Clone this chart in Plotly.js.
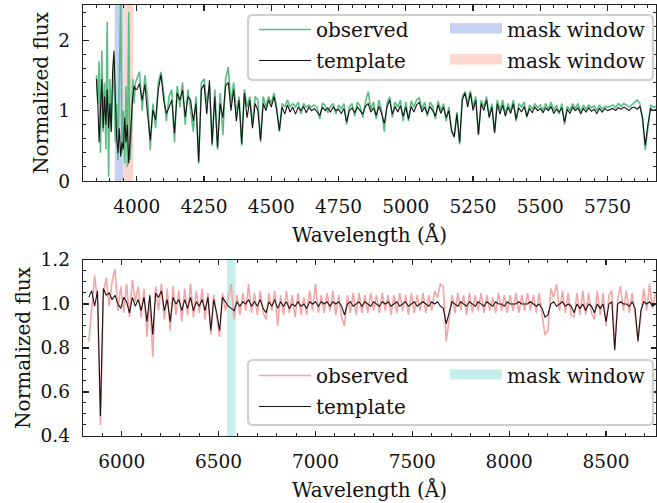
<!DOCTYPE html>
<html><head><meta charset="utf-8">
<script src="https://cdn.plot.ly/plotly-3.0.1.min.js"></script>
<style>html,body{margin:0;padding:0;background:#fff}</style>
</head><body><div id="chart" style="width:657px;height:503px"></div>
<script>
// ---------------- data ----------------
const topWave = [
3850,3855,3860,3865,3870,3875,3880,3885,3890,3895,
3900,3905,3910,3915,3920,3925,3930,3935,3940,3945,
3950,3955,3960,3965,3970,3975,3980,3985,3990,3995,
4000,4010,4020,4030,4040,4050,4060,4070,4080,4090,
4100,4110,4120,4130,4140,4150,4160,4170,4180,4190,
4200,4210,4220,4230,4240,4250,4260,4270,4280,4290,
4300,4310,4320,4330,4340,4350,4360,4370,4380,4390,
4400,4410,4420,4430,4440,4450,4460,4470,4480,4490,
4500,4510,4520,4530,4540,4550,4560,4570,4580,4590,
4600,4610,4620,4630,4640,4650,4660,4670,4680,4690,
4700,4710,4720,4730,4740,4750,4760,4770,4780,4790,
4800,4810,4820,4830,4840,4850,4860,4870,4880,4890,
4900,4910,4920,4930,4940,4950,4960,4970,4980,4990,
5000,5010,5020,5030,5040,5050,5060,5070,5080,5090,
5100,5110,5120,5130,5140,5150,5160,5170,5180,5190,
5200,5210,5220,5230,5240,5250,5260,5270,5280,5290,
5300,5310,5320,5330,5340,5350,5360,5370,5380,5390,
5400,5410,5420,5430,5440,5450,5460,5470,5480,5490,
5500,5510,5520,5530,5540,5550,5560,5570,5580,5590,
5600,5610,5620,5630,5640,5650,5660,5670,5680,5690,
5700,5710,5720,5730,5740,5750,5760,5770,5780,5790,
5800,5810,5820,5830,5840,5850,5860,5870,5880,5890,
5900,5910,5920,5930];
const topTemplate = [
1.45,1.10,0.55,1.05,1.45,0.75,1.20,0.80,1.30,0.75,
1.10,0.70,1.55,1.85,1.00,0.60,0.40,0.75,0.35,0.55,
0.45,0.90,0.55,0.80,0.25,0.60,0.95,1.20,1.35,1.30,
1.30,1.38,1.15,1.37,0.95,0.58,1.01,0.87,1.30,1.51,
1.15,0.96,1.05,1.15,0.68,1.25,1.15,1.29,0.91,1.20,
1.15,0.85,1.10,0.27,1.30,1.37,0.95,1.43,0.53,1.20,
0.48,1.10,0.90,1.35,1.40,1.00,1.30,0.85,1.15,0.53,
1.25,0.90,1.15,0.75,1.10,1.00,0.58,1.10,1.00,1.15,
1.05,1.20,1.00,0.72,1.05,0.95,1.08,0.98,1.05,0.95,
1.05,1.00,1.06,0.97,1.05,1.00,1.03,0.98,0.93,1.05,
1.00,1.04,0.98,1.05,1.00,1.02,0.96,1.03,0.84,1.00,
1.04,0.97,1.05,1.00,0.95,1.06,1.10,0.98,1.04,0.93,
1.06,0.96,0.82,1.05,1.15,0.95,1.06,0.98,1.07,0.92,
1.05,0.88,1.06,0.98,1.08,1.12,0.98,1.05,0.95,1.06,
1.00,0.92,1.08,0.96,1.05,0.90,1.00,0.72,0.63,0.95,
0.55,1.15,1.25,1.05,1.25,1.00,1.15,0.66,1.10,1.00,
1.15,0.90,1.05,0.69,1.10,0.95,1.08,0.92,1.05,0.96,
1.10,0.88,1.04,0.98,1.06,0.92,1.03,0.97,1.05,1.00,
1.03,0.97,1.04,1.00,1.06,0.96,1.02,0.98,1.04,0.84,
1.02,0.96,1.05,1.00,1.04,0.95,1.03,0.98,1.04,0.99,
1.02,0.96,1.03,0.98,1.03,1.00,1.02,1.03,1.00,1.04,
1.02,1.05,1.03,1.00,1.04,1.05,1.02,1.06,0.90,0.51,
0.80,1.03,1.00,1.02];
const topObserved = [
1.50,1.10,1.70,0.40,1.85,0.70,1.40,0.45,2.26,0.06,
1.45,0.70,1.30,1.75,0.55,1.10,0.30,1.40,2.60,0.40,
1.00,0.25,1.35,0.20,2.40,0.30,0.70,1.45,1.10,1.40,
1.45,1.55,1.00,1.50,1.20,0.44,1.10,0.75,1.40,1.55,
1.25,0.85,1.20,1.30,0.55,1.35,1.05,1.40,0.80,1.30,
1.00,0.70,1.20,0.25,1.40,1.45,1.10,1.35,0.50,1.30,
0.45,1.25,0.65,1.45,1.62,1.10,1.40,0.95,1.20,0.50,
1.30,1.05,1.20,0.80,1.20,1.15,0.55,1.20,1.05,1.20,
1.10,1.25,1.05,0.70,1.10,1.05,1.15,1.05,1.10,1.05,
1.12,0.95,1.10,1.05,1.08,1.05,1.08,1.05,0.88,1.10,
1.08,0.97,1.06,1.10,0.95,1.08,1.02,1.10,0.80,1.05,
1.10,0.92,1.12,1.06,0.90,1.12,1.27,1.02,1.12,0.88,
1.15,1.00,0.70,1.10,1.20,0.90,1.12,1.05,1.15,0.85,
1.12,0.85,1.14,1.05,1.15,1.18,1.02,1.12,0.92,1.12,
1.06,0.88,1.14,1.00,1.10,0.85,1.05,0.70,0.62,0.98,
0.52,1.20,1.27,1.10,1.28,1.05,1.20,0.65,1.15,1.05,
1.20,0.92,1.10,0.68,1.15,1.00,1.15,0.95,1.10,1.00,
1.15,0.85,1.10,1.05,1.12,0.90,1.08,1.02,1.10,1.04,
1.08,1.00,1.10,1.02,1.12,1.00,1.08,0.95,1.10,0.80,
1.06,1.00,1.10,1.03,1.10,0.98,1.08,1.02,1.08,1.04,
1.07,1.00,1.08,1.02,1.06,1.05,1.06,1.08,1.04,1.10,
1.06,1.10,1.08,1.05,1.08,1.12,1.15,1.10,0.88,0.44,
0.75,1.08,1.05,1.06];

const botWave = [
5830,5845,5860,5875,5890,5905,5920,5935,5950,5965,
5980,5995,6010,6025,6040,6055,6070,6085,6100,6115,
6130,6145,6160,6175,6190,6205,6220,6235,6250,6265,
6280,6295,6310,6325,6340,6355,6370,6385,6400,6415,
6430,6445,6460,6475,6490,6505,6520,6535,6550,6565,
6580,6595,6610,6625,6640,6655,6670,6685,6700,6715,
6730,6745,6760,6775,6790,6805,6820,6835,6850,6865,
6880,6895,6910,6925,6940,6955,6970,6985,7000,7015,
7030,7045,7060,7075,7090,7105,7120,7135,7150,7165,
7180,7195,7210,7225,7240,7255,7270,7285,7300,7315,
7330,7345,7360,7375,7390,7405,7420,7435,7450,7465,
7480,7495,7510,7525,7540,7555,7570,7585,7600,7615,
7630,7645,7660,7675,7690,7705,7720,7735,7750,7765,
7780,7795,7810,7825,7840,7855,7870,7885,7900,7915,
7930,7945,7960,7975,7990,8005,8020,8035,8050,8065,
8080,8095,8110,8125,8140,8155,8170,8185,8200,8215,
8230,8245,8260,8275,8290,8305,8320,8335,8350,8365,
8380,8395,8410,8425,8440,8455,8470,8485,8500,8515,
8530,8545,8560,8575,8590,8605,8620,8635,8650,8665,
8680,8695,8710,8725,8740,8755];
const botTemplate = [
1.03,1.06,0.99,1.06,0.49,1.07,1.04,1.05,1.02,1.04,
1.00,0.98,1.03,1.01,0.96,1.03,0.99,1.02,0.97,1.03,
0.92,1.04,0.86,1.05,1.03,1.06,0.97,1.02,0.92,1.03,
1.00,1.02,0.97,1.02,0.98,1.03,0.97,1.01,0.99,1.02,
0.97,1.03,0.88,1.02,0.96,0.88,1.03,1.01,0.99,0.98,
0.97,1.01,0.99,1.01,1.00,1.02,0.99,1.01,0.99,1.02,
0.98,0.96,1.01,0.99,1.02,0.98,1.01,0.99,1.01,0.98,
1.00,0.99,1.01,0.99,1.00,0.98,1.01,1.00,1.01,0.99,
1.01,1.00,1.01,0.99,1.01,1.00,1.01,0.99,0.95,1.00,
1.01,0.99,1.00,1.01,0.99,1.01,1.00,0.99,1.01,1.00,
0.99,1.01,1.00,1.01,0.99,1.00,1.01,0.99,1.00,1.01,
0.99,1.00,1.01,0.99,1.00,1.01,1.00,0.99,1.01,1.00,
1.01,0.99,0.98,0.91,0.96,1.01,1.00,0.99,1.01,1.00,
0.99,1.01,1.00,0.99,1.01,1.00,0.99,1.01,1.00,0.99,
1.01,1.00,1.00,0.99,1.01,1.00,1.00,1.00,1.01,1.00,
1.00,1.00,1.01,1.00,0.99,1.00,0.98,0.94,0.95,1.00,
1.01,0.99,1.00,1.01,0.99,1.00,0.99,0.96,1.00,0.98,
1.00,0.97,1.00,0.99,0.96,1.00,0.98,1.00,0.92,1.00,
1.01,0.79,1.00,1.01,1.00,1.00,0.99,1.01,0.98,0.83,
0.97,1.01,1.00,1.01,0.99,1.00];
const botObserved = [
0.83,0.98,1.13,1.01,0.45,1.04,1.12,0.99,1.10,1.16,
0.97,1.08,0.96,1.09,0.94,1.11,1.01,1.08,0.94,1.07,
0.85,1.03,0.76,1.08,0.97,1.09,0.93,1.07,0.88,1.08,
0.95,1.06,0.92,1.07,0.95,1.09,0.94,1.06,0.96,1.07,
0.93,1.05,0.86,1.04,0.95,0.85,1.05,0.97,1.03,1.09,
0.93,1.04,0.95,1.05,0.97,1.09,0.96,1.05,0.95,1.06,
0.96,0.93,1.05,0.97,1.06,0.90,1.04,0.95,1.06,0.96,
1.04,0.94,1.05,0.95,1.03,0.95,1.06,0.97,1.09,0.96,
1.04,0.96,1.05,0.97,1.06,0.95,1.04,0.94,0.90,1.04,
0.96,1.05,0.95,1.05,0.96,1.04,0.96,1.05,0.97,1.04,
0.96,1.05,0.97,1.04,0.95,1.04,0.96,1.05,0.97,1.04,
0.95,1.05,0.96,1.04,0.97,1.05,0.96,1.04,0.97,1.06,
1.03,1.09,1.08,0.83,0.93,1.04,0.96,1.05,0.97,1.04,
0.95,1.05,0.96,1.04,0.97,1.05,0.96,1.04,0.97,1.03,
0.96,1.05,0.97,1.04,0.96,1.04,0.97,1.05,0.96,1.04,
0.97,1.05,0.97,1.04,0.96,1.05,0.95,0.86,0.88,1.07,
1.03,1.09,0.97,1.06,0.96,1.05,0.95,0.94,1.05,0.95,
1.06,0.95,1.05,0.96,0.93,1.06,0.95,1.05,0.90,1.04,
1.06,0.80,1.02,1.08,0.97,1.06,0.96,1.05,0.95,0.84,
0.95,1.07,0.97,1.09,0.98,1.05];

const maskBlue = [3918, 3951];
const maskRed = [3953, 3987];
const maskCyan = [6543, 6588];
const topXRange = [3800, 5930];
const botXRange = [5800, 8758];
const topYRange = [0, 2.5];
const botYRange = [0.4, 1.2];
const seriesNames = ['observed', 'template', 'mask window'];

// ---------------- styling ----------------
const FONT = 'DejaVu Serif';
const W = 573, H = 431; // plot area size (px)

// mask window drawn as a vertical band whose stroke width equals the window width
function maskTrace(win, xr, yr, ax, ay, color, leg, grp) {
  const c = (win[0] + win[1]) / 2;
  const wpx = (win[1] - win[0]) * W / (xr[1] - xr[0]);
  return {x: [c, c], y: [yr[0] - 1, yr[1] + 1], xaxis: ax, yaxis: ay, mode: 'lines',
    fill: 'toself', fillcolor: color, line: {color: color, width: wpx},
    name: seriesNames[2], legend: leg, legendgroup: grp, hoverinfo: 'skip'};
}

const traces = [];
traces.push(maskTrace(maskBlue, topXRange, topYRange, 'x', 'y', '#c6d1f3', 'legend2', 'mb'));
traces.push(maskTrace(maskRed, topXRange, topYRange, 'x', 'y', '#fbd7d0', 'legend2', 'mr'));
traces.push({x: topWave, y: topObserved, xaxis:'x', yaxis:'y', mode:'lines', legendgroup:'to',
  line:{color:'#5cbd84', width:1.6}, name: seriesNames[0], legend:'legend'});
traces.push({x: topWave, y: topTemplate, xaxis:'x', yaxis:'y', mode:'lines', legendgroup:'tt',
  line:{color:'#151515', width:1.1}, name: seriesNames[1], legend:'legend'});
traces.push(maskTrace(maskCyan, botXRange, botYRange, 'x2', 'y2', '#c5eeec', 'legend4', 'mc'));
traces.push({x: botWave, y: botObserved, xaxis:'x2', yaxis:'y2', mode:'lines', legendgroup:'bo',
  line:{color:'#f4a6a6', width:1.6}, name: seriesNames[0], legend:'legend3'});
traces.push({x: botWave, y: botTemplate, xaxis:'x2', yaxis:'y2', mode:'lines', legendgroup:'bt',
  line:{color:'#1e1414', width:1.1}, name: seriesNames[1], legend:'legend3'});

const base = {
  showline: true, linecolor: '#222', linewidth: 1.3, mirror: 'ticks',
  ticks: 'inside', ticklen: 5.5, tickwidth: 1.3, tickcolor: '#222',
  showgrid: false, zeroline: false, fixedrange: true,
  tickfont: {family: FONT, size: 18.5, color: '#111'},
};
function minor(d) { return {dtick: d, ticks:'inside', ticklen: 3, tickwidth: 1, tickcolor:'#222', showgrid:false}; }
const titleFont = {family: FONT, size: 20, color: '#111'};

function px(x) { return (x - 83) / W; }
function py(y) { return (436 - y) / H; }
function roundBox(x0p, y0p, x1p, y1p, r) {
  const x0 = px(x0p), x1 = px(x1p), ya = py(y1p), yb = py(y0p);
  const rx = r / W, ry = r / H;
  return `M${x0+rx},${ya} L${x1-rx},${ya} Q${x1},${ya} ${x1},${ya+ry} L${x1},${yb-ry} Q${x1},${yb} ${x1-rx},${yb} L${x0+rx},${yb} Q${x0},${yb} ${x0},${yb-ry} L${x0},${ya+ry} Q${x0},${ya} ${x0+rx},${ya} Z`;
}
const legBase = {bgcolor:'rgba(0,0,0,0)', borderwidth:0, font:{family:FONT, size:20, color:'#111'},
  itemwidth: 52, xanchor:'left', yanchor:'top', orientation:'v', tracegroupgap: 2};

const layout = {
  width: 657, height: 503,
  margin: {l: 83, r: 1, t: 5, b: 67},
  font: {family: FONT, size: 18, color: '#111'},
  paper_bgcolor: '#fff', plot_bgcolor: '#fff',
  showlegend: true,
  xaxis: Object.assign({}, base, {domain:[0,1], anchor:'y', range: topXRange, tick0: 4000, dtick: 250,
    minor: minor(50), ticklabelstandoff: 8,
    title: {text: 'Wavelength (Å)', font: titleFont, standoff: 12}}),
  yaxis: Object.assign({}, base, {domain:[0.5916,1], anchor:'x', range: topYRange, tick0: 0, dtick: 1,
    minor: minor(0.2), ticklabelstandoff: 8,
    title: {text: 'Normalized flux', font: titleFont, standoff: 4}}),
  xaxis2: Object.assign({}, base, {domain:[0,1], anchor:'y2', range: botXRange, tick0: 6000, dtick: 500,
    minor: minor(100), ticklabelstandoff: 8,
    title: {text: 'Wavelength (Å)', font: titleFont, standoff: 12}}),
  yaxis2: Object.assign({}, base, {domain:[0,0.4084], anchor:'x2', range: botYRange, tick0: 0.4, dtick: 0.2,
    tickformat: '.1f', minor: minor(0.05), ticklabelstandoff: 8,
    title: {text: 'Normalized flux', font: titleFont, standoff: 4}}),
  legend: Object.assign({}, legBase, {x: px(254), y: py(10)}),
  legend2: Object.assign({}, legBase, {x: px(445), y: py(10)}),
  legend3: Object.assign({}, legBase, {x: px(254), y: py(356)}),
  legend4: Object.assign({}, legBase, {x: px(445), y: py(356)}),
  shapes: [
    {type:'path', xref:'paper', yref:'paper', path: roundBox(248, 15, 653, 80, 5),
     fillcolor:'rgba(255,255,255,0.85)', line:{color:'#cfcfcf', width:2.2}, layer:'above'},
    {type:'path', xref:'paper', yref:'paper', path: roundBox(248, 360, 653, 425, 5),
     fillcolor:'rgba(255,255,255,0.85)', line:{color:'#cfcfcf', width:2.2}, layer:'above'}
  ]
};

Plotly.newPlot('chart', traces, layout, {displayModeBar:false, staticPlot:true});
</script></body></html>
